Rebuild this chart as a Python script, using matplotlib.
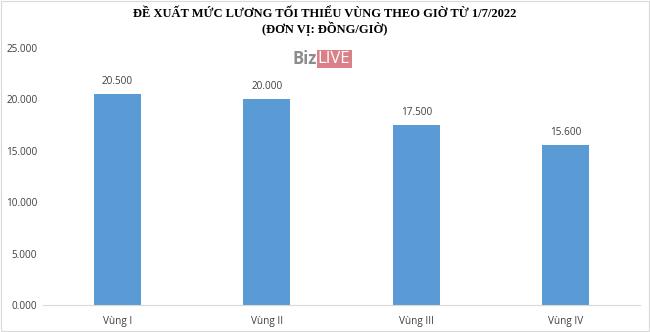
import matplotlib
matplotlib.use("Agg")
import matplotlib.pyplot as plt
from matplotlib.ticker import FixedLocator

categories = ["Vùng I", "Vùng II", "Vùng III", "Vùng IV"]
values = [20500, 20000, 17500, 15600]
value_labels = ["20.500", "20.000", "17.500", "15.600"]
y_ticks = [0, 5000, 10000, 15000, 20000, 25000]
y_tick_labels = ["0.000", "5.000", "10.000", "15.000", "20.000", "25.000"]

fig = plt.figure(figsize=(6.5, 3.32), dpi=100)
ax = fig.add_axes([0.066, 0.0813, 0.919, 0.774])

x = range(len(categories))
bars = ax.bar(x, values, width=0.315, color="#5B9BD5")
ax.set_xlim(-0.5, len(categories) - 0.5)
ax.set_ylim(0, 25000)
ax.yaxis.set_major_locator(FixedLocator(y_ticks))
ax.set_yticklabels(y_tick_labels, fontsize=7.2, color="#404040", family="Open Sans")
ax.set_xticks(list(x))
ax.set_xticklabels(categories, fontsize=7.2, color="#404040", family="Open Sans")
ax.tick_params(axis="both", length=0)
ax.tick_params(axis="x", pad=8)
ax.tick_params(axis="y", pad=4)
for s in ["top", "right", "left"]:
    ax.spines[s].set_visible(False)
ax.spines["bottom"].set_color("#d9d9d9")
ax.spines["bottom"].set_linewidth(0.8)

for b, lab in zip(bars, value_labels):
    ax.annotate(lab, (b.get_x() + b.get_width() / 2, b.get_height()),
                xytext=(0, 5), textcoords="offset points", ha="center", va="bottom",
                fontsize=7.2, color="#404040", family="Open Sans")

fig.text(0.5, 0.958, "ĐỀ XUẤT MỨC LƯƠNG TỐI THIỂU VÙNG THEO GIỜ TỪ 1/7/2022",
         ha="center", va="center", fontsize=9, fontweight="bold", family="Liberation Serif")
fig.text(0.5, 0.913, "(ĐƠN VỊ: ĐỒNG/GIỜ)",
         ha="center", va="center", fontsize=9, fontweight="bold", family="Liberation Serif")

# watermark
fig.text(0.487, 0.822, "Biz", ha="right", va="center", fontsize=12, color="#8c8c8c",
         family="Open Sans", fontweight="bold")
fig.text(0.489, 0.822, "LIVE", ha="left", va="center", fontsize=12, color="white",
         family="Open Sans",
         bbox=dict(boxstyle="square,pad=0.08", facecolor="#d98088", edgecolor="none"))

fig.patches.append(plt.Rectangle((0.001, 0.002), 0.997, 0.995, transform=fig.transFigure,
                                 fill=False, edgecolor="#d9d9d9", linewidth=0.8))

fig.savefig("out.png", dpi=100)
